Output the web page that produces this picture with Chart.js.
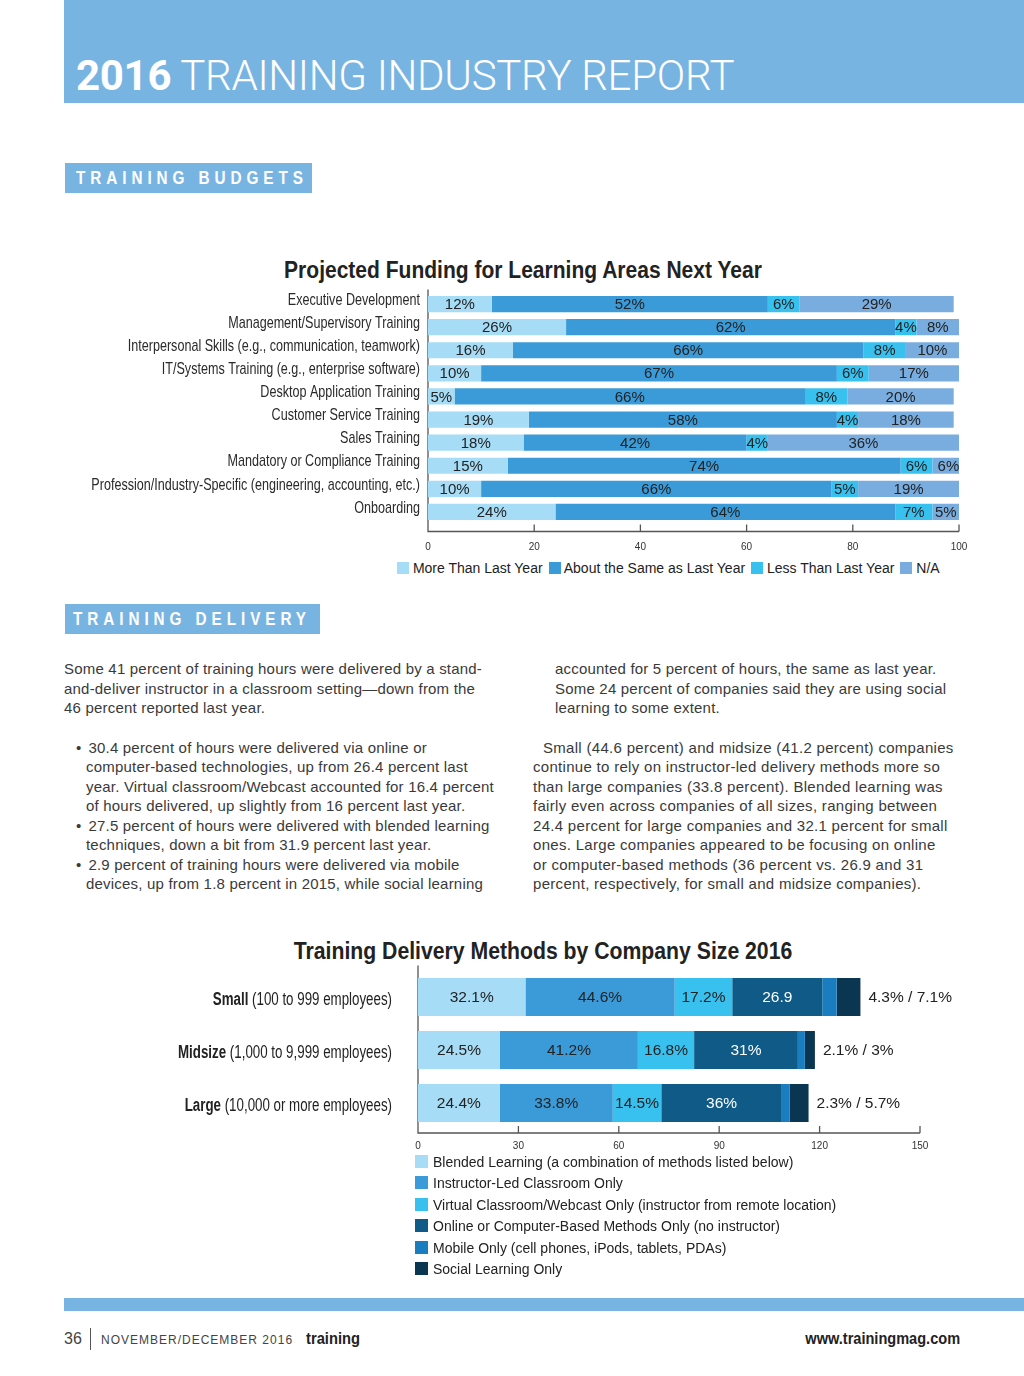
<!DOCTYPE html>
<html>
<head>
<meta charset="utf-8">
<script src="https://cdn.jsdelivr.net/npm/chart.js@4.4.1/dist/chart.umd.min.js"></script>
<style>
html,body{margin:0;padding:0;background:#fff;}
body{width:1024px;height:1376px;position:relative;overflow:hidden;font-family:"Liberation Sans",Arial,sans-serif;color:#333;}
.abs{position:absolute;}
#header{left:64px;top:0;width:960px;height:103px;background:#78b4e2;}
#htitle{left:76px;top:52px;font-family:Roboto,"Liberation Sans",sans-serif;font-size:42px;line-height:48px;color:#fff;font-weight:300;white-space:nowrap;letter-spacing:-0.3px;}
#htitle b{font-weight:700;}
.sect{background:#78b4e2;color:#fff;font-family:"Liberation Sans",Arial,sans-serif;font-weight:700;font-size:18px;line-height:30px;height:30px;box-sizing:border-box;white-space:nowrap;}
.sect span{display:inline-block;transform:scaleX(0.85);transform-origin:0 50%;letter-spacing:5.8px;}
.ctitle{font-family:"Liberation Sans",Arial,sans-serif;font-weight:700;color:#222;white-space:nowrap;}
.body{font-size:15px;line-height:19.5px;color:#3a3a3a;white-space:nowrap;letter-spacing:0.2px;}
.legend{font-size:14px;color:#222;white-space:nowrap;}
.legend .sw{display:inline-block;width:12px;height:12px;vertical-align:-1px;}
#footband{left:64px;top:1298px;width:960px;height:13px;background:#78b4e2;}
.foot{font-family:"Liberation Sans",Arial,sans-serif;color:#444;white-space:nowrap;}
canvas{display:block;}
</style>
</head>
<body>
<div id="header" class="abs"></div>
<div id="htitle" class="abs"><b>2016</b> TRAINING INDUSTRY REPORT</div>

<div class="abs sect" style="left:65px;top:163px;width:247px;padding-left:11px;"><span>TRAINING BUDGETS</span></div>

<div class="abs ctitle" style="left:523px;top:256px;font-size:23px;line-height:28px;transform:translateX(-50%) scaleX(0.914);">Projected Funding for Learning Areas Next Year</div>
<div class="abs" style="left:60px;top:280px;width:925px;height:280px;"><canvas id="fundChart"></canvas></div>
<div id="fundLegend" class="abs legend" style="left:397px;top:560px;"></div>

<div class="abs sect" style="left:65px;top:604px;width:255px;padding-left:8px;"><span>TRAINING DELIVERY</span></div>

<div class="abs body" style="left:64px;top:659px;">Some 41 percent of training hours were delivered by a stand-<br>and-deliver instructor in a classroom setting—down from the<br>46 percent reported last year.</div>
<div class="abs body" style="left:76px;top:738px;line-height:19.45px;">
<div>•<span style="margin-left:7px">30.4 percent of hours were delivered via online or</span></div>
<div style="padding-left:10px">computer-based technologies, up from 26.4 percent last</div>
<div style="padding-left:10px">year. Virtual classroom/Webcast accounted for 16.4 percent</div>
<div style="padding-left:10px">of hours delivered, up slightly from 16 percent last year.</div>
<div>•<span style="margin-left:7px">27.5 percent of hours were delivered with blended learning</span></div>
<div style="padding-left:10px">techniques, down a bit from 31.9 percent last year.</div>
<div>•<span style="margin-left:7px">2.9 percent of training hours were delivered via mobile</span></div>
<div style="padding-left:10px">devices, up from 1.8 percent in 2015, while social learning</div>
</div>
<div class="abs body" style="left:555px;top:659px;">accounted for 5 percent of hours, the same as last year.<br>Some 24 percent of companies said they are using social<br>learning to some extent.</div>
<div class="abs body" style="left:533px;top:738px;line-height:19.45px;letter-spacing:0.3px;">
<div style="padding-left:10px">Small (44.6 percent) and midsize (41.2 percent) companies</div>
<div>continue to rely on instructor-led delivery methods more so</div>
<div>than large companies (33.8 percent). Blended learning was</div>
<div>fairly even across companies of all sizes, ranging between</div>
<div>24.4 percent for large companies and 32.1 percent for small</div>
<div>ones. Large companies appeared to be focusing on online</div>
<div>or computer-based methods (36 percent vs. 26.9 and 31</div>
<div>percent, respectively, for small and midsize companies).</div>
</div>

<div class="abs ctitle" style="left:543px;top:937px;font-size:23px;line-height:28px;transform:translateX(-50%) scaleX(0.922);">Training Delivery Methods by Company Size 2016</div>
<div class="abs" style="left:150px;top:960px;width:840px;height:200px;"><canvas id="deliveryChart"></canvas></div>
<div id="deliveryLegend" class="abs legend" style="left:415px;top:1152px;"></div>

<div id="footband" class="abs"></div>
<div class="abs foot" style="left:64px;top:1330px;font-size:16px;line-height:18px;">36</div>
<div class="abs" style="left:90px;top:1328px;width:1px;height:22px;background:#555;"></div>
<div class="abs foot" style="left:101px;top:1333px;font-size:12px;line-height:14px;letter-spacing:1px;">NOVEMBER/DECEMBER 2016</div>
<div class="abs foot" style="left:306px;top:1330px;font-size:16px;line-height:18px;font-weight:700;color:#222;transform:scaleX(0.92);transform-origin:0 50%;">training</div>
<div class="abs foot" style="right:64px;top:1330px;font-size:16px;line-height:18px;font-weight:700;color:#222;transform:scaleX(0.91);transform-origin:100% 50%;">www.trainingmag.com</div>

<script>
// ---------- Chart 1 data ----------
const fundCategories = [
  'Executive Development',
  'Management/Supervisory Training',
  'Interpersonal Skills (e.g., communication, teamwork)',
  'IT/Systems Training (e.g., enterprise software)',
  'Desktop Application Training',
  'Customer Service Training',
  'Sales Training',
  'Mandatory or Compliance Training',
  'Profession/Industry-Specific (engineering, accounting, etc.)',
  'Onboarding'
];
const fundSeriesNames = ['More Than Last Year', 'About the Same as Last Year', 'Less Than Last Year', 'N/A'];
const moreThanLastYear = [12, 26, 16, 10, 5, 19, 18, 15, 10, 24];
const sameAsLastYear   = [52, 62, 66, 67, 66, 58, 42, 74, 66, 64];
const lessThanLastYear = [6, 4, 8, 6, 8, 4, 4, 6, 5, 7];
const notApplicable    = [29, 8, 10, 17, 20, 18, 36, 6, 19, 5];
const fundTicks = [0, 20, 40, 60, 80, 100];

// ---------- Chart 2 data ----------
const sizeNames   = ['Small', 'Midsize', 'Large'];
const sizeDetails = ['(100 to 999 employees)', '(1,000 to 9,999 employees)', '(10,000 or more employees)'];
const deliverySeriesNames = [
  'Blended Learning (a combination of methods listed below)',
  'Instructor-Led Classroom Only',
  'Virtual Classroom/Webcast Only (instructor from remote location)',
  'Online or Computer-Based Methods Only (no instructor)',
  'Mobile Only (cell phones, iPods, tablets, PDAs)',
  'Social Learning Only'
];
const blendedLearning = [32.1, 24.5, 24.4];
const instructorLed   = [44.6, 41.2, 33.8];
const virtualClass    = [17.2, 16.8, 14.5];
const onlineMethods   = [26.9, 31, 36];
const mobileOnly      = [4.3, 2.1, 2.3];
const socialOnly      = [7.1, 3, 5.7];
const deliveryTicks = [0, 30, 60, 90, 120, 150];
// in-bar labels printed without a percent sign in the original: [series, row]
const plainLabels = [[3, 0]];

// ---------- styles ----------
const fundColors = ['#a6dcf5', '#3a9bd8', '#38c1ef', '#7aaddf'];
const deliveryColors = ['#a6dcf5', '#3a9bd8', '#38c1ef', '#0f5a86', '#1a7dbf', '#0b3652'];
const SANS = '"Liberation Sans", Arial, sans-serif';

// ---------- plugins ----------
const axisLines = {
  id: 'axisLines',
  beforeDatasetsDraw(chart, args, opts) {
    const {ctx, chartArea: a, scales: {x}} = chart;
    const yAx = a.bottom + opts.gap;
    const x0 = x.getPixelForValue(x.min), x1 = x.getPixelForValue(x.max);
    ctx.save();
    ctx.strokeStyle = '#555';
    ctx.lineWidth = 1.3;
    ctx.beginPath();
    ctx.moveTo(x0, a.top - opts.topExt);
    ctx.lineTo(x0, yAx);
    ctx.lineTo(x1, yAx);
    x.ticks.forEach(t => {
      const px = x.getPixelForValue(t.value);
      ctx.moveTo(px, yAx);
      ctx.lineTo(px, yAx - opts.tick);
    });
    ctx.stroke();
    ctx.restore();
  }
};

const segLabels = {
  id: 'segLabels',
  afterDatasetsDraw(chart, args, opts) {
    const ctx = chart.ctx;
    ctx.save();
    ctx.font = opts.font;
    ctx.textAlign = 'center';
    ctx.textBaseline = 'middle';
    chart.data.datasets.forEach((ds, di) => {
      const meta = chart.getDatasetMeta(di);
      meta.data.forEach((bar, i) => {
        const txt = opts.text(di, i, ds.data[i]);
        if (!txt) return;
        ctx.fillStyle = opts.color(di, i);
        ctx.fillText(txt, (bar.x + bar.base) / 2, bar.y + (opts.dy || 0));
      });
    });
    if (opts.endText) {
      const last = chart.getDatasetMeta(chart.data.datasets.length - 1);
      ctx.textAlign = 'left';
      ctx.fillStyle = '#222';
      last.data.forEach((bar, i) => {
        ctx.fillText(opts.endText(i), bar.x + 8, bar.y + 1);
      });
    }
    ctx.restore();
  }
};

// category labels in a condensed face (horizontally compressed), placed on the y scale
const condensedYLabels = {
  id: 'condensedYLabels',
  afterDraw(chart, args, opts) {
    const {ctx, chartArea: a, scales: {y}} = chart;
    ctx.save();
    ctx.textBaseline = 'middle';
    ctx.textAlign = 'left';
    ctx.fillStyle = opts.color;
    opts.parts.forEach((parts, i) => {
      const py = y.getPixelForValue(i) + opts.dy;
      const widths = parts.map(p => { ctx.font = p[1] + ' ' + opts.size + 'px ' + SANS; return ctx.measureText(p[0]).width; });
      const total = widths.reduce((s, v) => s + v, 0);
      ctx.save();
      ctx.translate(a.left - opts.gap, py);
      ctx.scale(opts.sx, 1);
      let xx = -total;
      parts.forEach((p, k) => {
        ctx.font = p[1] + ' ' + opts.size + 'px ' + SANS;
        ctx.fillText(p[0], xx, 0);
        xx += widths[k];
      });
      ctx.restore();
    });
    ctx.restore();
  }
};

// ---------- Chart 1 ----------
const fundValues = [moreThanLastYear, sameAsLastYear, lessThanLastYear, notApplicable];
new Chart(document.getElementById('fundChart'), {
  type: 'bar',
  data: {
    labels: fundCategories,
    datasets: fundValues.map((v, k) => ({
      label: fundSeriesNames[k], data: v, backgroundColor: fundColors[k],
      borderWidth: 0, barPercentage: 0.7, categoryPercentage: 1
    }))
  },
  options: {
    indexAxis: 'y', responsive: true, maintainAspectRatio: false, animation: false,
    layout: {padding: {top: 12.5, right: 26, bottom: 6.5, left: 0}},
    scales: {
      x: {
        stacked: true, min: 0, max: 100,
        afterBuildTicks: s => { s.ticks = fundTicks.map(v => ({value: v})); },
        afterFit: s => { s.height = 30; },
        grid: {display: false, drawTicks: false}, border: {display: false},
        ticks: {padding: 17.5, color: '#333', font: {family: SANS, size: 10}, maxRotation: 0}
      },
      y: {
        stacked: true,
        afterFit: s => { s.width = 368; },
        grid: {display: false, drawTicks: false}, border: {display: false},
        ticks: {display: false}
      }
    },
    plugins: {
      legend: {display: false}, tooltip: {enabled: false},
      axisLines: {gap: 8, tick: 7, topExt: 3},
      condensedYLabels: {parts: fundCategories.map(c => [[c, '400']]), size: 17, sx: 0.74, gap: 8, dy: -4, color: '#2a2a2a'},
      segLabels: {
        font: '15px ' + SANS,
        text: (di, i, v) => v + '%',
        color: () => '#222', dy: 1
      }
    }
  },
  plugins: [axisLines, segLabels, condensedYLabels]
});

// ---------- Chart 2 ----------
const deliveryValues = [blendedLearning, instructorLed, virtualClass, onlineMethods, mobileOnly, socialOnly];
new Chart(document.getElementById('deliveryChart'), {
  type: 'bar',
  data: {
    labels: sizeNames.map((n, i) => n + ' ' + sizeDetails[i]),
    datasets: deliveryValues.map((v, k) => ({
      label: deliverySeriesNames[k], data: v, backgroundColor: deliveryColors[k],
      borderWidth: 0, barPercentage: 0.72, categoryPercentage: 1
    }))
  },
  options: {
    indexAxis: 'y', responsive: true, maintainAspectRatio: false, animation: false,
    layout: {padding: {top: 10.5, right: 70, bottom: 0.5, left: 0}},
    scales: {
      x: {
        stacked: true, min: 0, max: 150,
        afterBuildTicks: s => { s.ticks = deliveryTicks.map(v => ({value: v})); },
        afterFit: s => { s.height = 30; },
        grid: {display: false, drawTicks: false}, border: {display: false},
        ticks: {padding: 10.5, color: '#333', font: {family: SANS, size: 10}, maxRotation: 0}
      },
      y: {
        stacked: true,
        afterFit: s => { s.width = 268; },
        grid: {display: false, drawTicks: false}, border: {display: false},
        ticks: {display: false}
      }
    },
    plugins: {
      legend: {display: false}, tooltip: {enabled: false},
      axisLines: {gap: 3.5, tick: 7, topExt: 5},
      condensedYLabels: {parts: sizeNames.map((n, i) => [[n + ' ', '700'], [sizeDetails[i], '400']]), size: 18, sx: 0.74, gap: 26, dy: 3, color: '#222'},
      segLabels: {
        font: '15.5px ' + SANS,
        text: (di, i, v) => di > 3 ? '' : (plainLabels.some(p => p[0] === di && p[1] === i) ? String(v) : v + '%'),
        color: (di) => di === 3 ? '#fff' : '#222', dy: 1,
        endText: i => mobileOnly[i] + '% / ' + socialOnly[i] + '%'
      }
    }
  },
  plugins: [axisLines, segLabels, condensedYLabels]
});

// ---------- HTML legends built from the series ----------
document.getElementById('fundLegend').innerHTML = fundSeriesNames.map((n, k) =>
  '<span style="margin-right:6px"><span class="sw" style="background:' + fundColors[k] + '"></span> ' + n + '</span>').join('');
document.getElementById('deliveryLegend').innerHTML = deliverySeriesNames.map((n, k) =>
  '<div style="height:21.4px;line-height:21.4px"><span class="sw" style="width:13px;height:13px;background:' + deliveryColors[k] + '"></span><span style="margin-left:5px">' + n + '</span></div>').join('');
</script>
</body>
</html>
